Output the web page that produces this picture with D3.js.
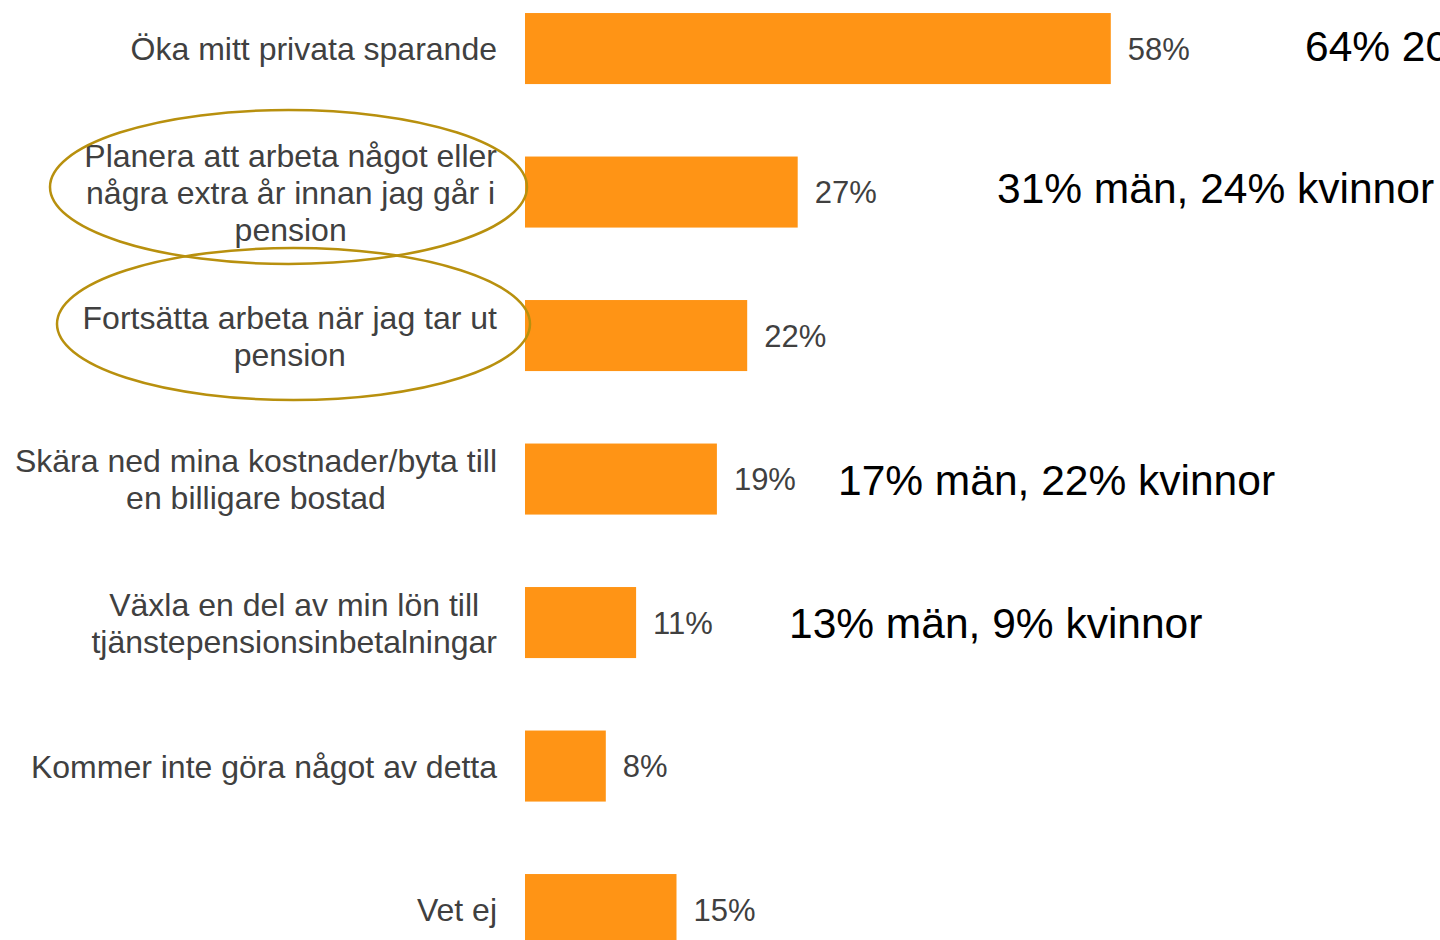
<!DOCTYPE html>
<html lang="sv">
<head>
    <meta charset="UTF-8">
    <title>Pension – planerade åtgärder</title>
    <script src="https://cdn.jsdelivr.net/npm/d3@7/dist/d3.min.js"></script>
    <style>
        body { margin: 0; background: #fff; }
        svg { display: block; font-family: "Liberation Sans", Arial, sans-serif; }
    </style>
</head>
<body>
<script>
    // chart data
    const categories = [
        ["Öka mitt privata sparande"],
        ["Planera att arbeta något eller", "några extra år innan jag går i", "pension"],
        ["Fortsätta arbeta när jag tar ut", "pension"],
        ["Skära ned mina kostnader/byta till", "en billigare bostad"],
        ["Växla en del av min lön till", "tjänstepensionsinbetalningar"],
        ["Kommer inte göra något av detta"],
        ["Vet ej"]
    ];
    const values = [58, 27, 22, 19, 11, 8, 15];
    const genderNotes = ["64% 20", "31% män, 24% kvinnor", null, "17% män, 22% kvinnor", "13% män, 9% kvinnor", null, null];
    const circled = [1, 2];

    const width = 1440, height = 940;
    const labelRight = 497;
    const noteX = [1305, 997, null, 838, 789, null, null];

    const svg = d3.select("body").append("svg")
        .attr("width", width)
        .attr("height", height);

    const x = d3.scaleLinear().domain([0, 100]).range([525, 1535]);
    const y = d3.scaleBand()
        .domain(d3.range(categories.length))
        .range([-23.2, 981.3])
        .paddingInner(0.505)
        .paddingOuter(0.2525);

    // bars
    svg.selectAll("rect.bar")
        .data(values)
        .enter().append("rect")
        .attr("class", "bar")
        .attr("x", x(0))
        .attr("y", (d, i) => y(i))
        .attr("width", d => x(d) - x(0))
        .attr("height", y.bandwidth())
        .style("fill", "#FF9415");

    // value labels
    svg.selectAll("text.val")
        .data(values)
        .enter().append("text")
        .attr("class", "val")
        .attr("x", d => x(d) + 17)
        .attr("y", (d, i) => y(i) + y.bandwidth() / 2)
        .attr("dy", "0.36em")
        .style("font-size", "31px")
        .style("fill", "#404040")
        .text(d => d + "%");

    // category labels, lines centred, longest line flush with labelRight
    const lineH = 37;
    categories.forEach((lines, i) => {
        const g = svg.append("text")
            .attr("class", "cat")
            .style("font-size", "32px")
            .style("fill", "#404040")
            .attr("text-anchor", "middle");
        const cy = y(i) + y.bandwidth() / 2;
        const spans = lines.map((t, k) => g.append("tspan")
            .attr("y", cy + (k - (lines.length - 1) / 2) * lineH)
            .attr("dy", "0.36em")
            .text(t));
        const maxW = d3.max(spans, s => s.node().getComputedTextLength());
        spans.forEach(s => s.attr("x", labelRight - maxW / 2));
    });

    // ellipses round two labels
    const ell = [{cx: 288.5, cy: 187, rx: 238.5, ry: 77}, {cx: 293.5, cy: 324, rx: 236.5, ry: 76}];
    svg.selectAll("ellipse")
        .data(circled)
        .enter().append("ellipse")
        .attr("cx", (d, k) => ell[k].cx)
        .attr("cy", (d, k) => ell[k].cy)
        .attr("rx", (d, k) => ell[k].rx)
        .attr("ry", (d, k) => ell[k].ry)
        .style("fill", "none")
        .style("stroke", "#B8900E")
        .style("stroke-width", 2.5);

    // gender split notes
    const noteDy = [-3, -4, 0, 1, 0, 0, 0];
    genderNotes.forEach((t, i) => {
        if (!t) return;
        svg.append("text")
            .attr("x", noteX[i])
            .attr("y", y(i) + y.bandwidth() / 2 + noteDy[i])
            .attr("dy", "0.36em")
            .style("font-size", "42.5px")
            .style("fill", "#000")
            .text(t);
    });
</script>
</body>
</html>
